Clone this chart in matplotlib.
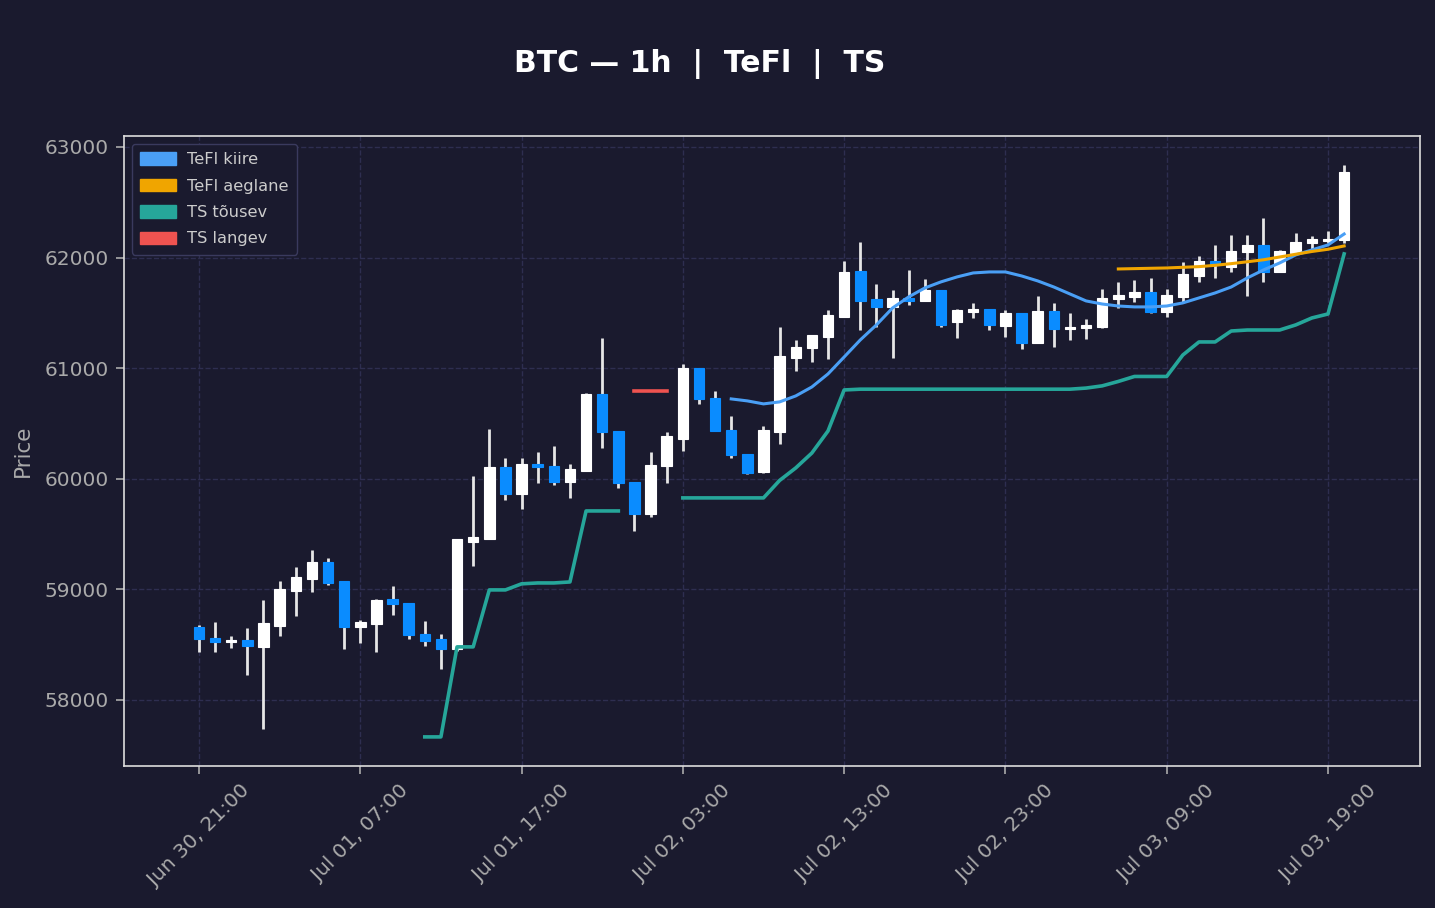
import numpy as np
import matplotlib
matplotlib.use("Agg")
import matplotlib.pyplot as plt
from matplotlib.patches import Patch

nan = np.nan

opens = [58660, 58561, 58525, 58543, 58480, 58670, 58986, 59094, 59248, 59077,
         58661, 58688, 58914, 58878, 58597, 58552, 58462, 59429, 59456, 60107,
         59863, 60134, 60116, 59971, 60071, 60767, 60432, 59971, 59682, 60116,
         60360, 61002, 60731, 60441, 60224, 60062, 60423, 61092, 61183, 61282,
         61463, 61879, 61626, 61554, 61635, 61608, 61707, 61418, 61508, 61535,
         61382, 61499, 61228, 61517, 61355, 61364, 61373, 61626, 61644, 61689,
         61508, 61644, 61834, 61969, 61915, 62051, 62114, 61870, 62042, 62132,
         62150, 62159]
highs = [58678, 58706, 58579, 58652, 58905, 59077, 59203, 59357, 59284, 59077,
         58724, 58914, 59031, 58878, 58715, 58597, 59456, 60026, 60450, 60188,
         60188, 60242, 60297, 60134, 60776, 61273, 60432, 59971, 60242, 60423,
         61038, 61002, 60794, 60568, 60224, 60477, 61373, 61255, 61300, 61526,
         61969, 62141, 61762, 61707, 61888, 61806, 61707, 61535, 61590, 61535,
         61526, 61499, 61653, 61590, 61499, 61445, 61716, 61780, 61798, 61816,
         61716, 61960, 62015, 62114, 62204, 62204, 62358, 62069, 62223, 62195,
         62240, 62837]
lows = [58434, 58434, 58470, 58227, 57739, 58579, 58760, 58977, 59040, 58462,
        58516, 58434, 58769, 58552, 58489, 58280, 58440, 59212, 59456, 59809,
        59727, 59962, 59944, 59827, 60071, 60279, 59917, 59528, 59655, 59962,
        60252, 60677, 60432, 60188, 60044, 60053, 60315, 60975, 61056, 61083,
        61463, 61345, 61373, 61092, 61572, 61608, 61373, 61273, 61454, 61345,
        61282, 61174, 61228, 61192, 61255, 61264, 61364, 61544, 61599, 61499,
        61463, 61599, 61780, 61816, 61870, 61653, 61780, 61870, 62033, 62078,
        62132, 62132]
closes = [58552, 58525, 58543, 58489, 58697, 59004, 59113, 59248, 59058, 58661,
          58706, 58905, 58869, 58588, 58534, 58462, 59456, 59474, 60107, 59863,
          60134, 60107, 59971, 60089, 60767, 60423, 59962, 59682, 60125, 60387,
          61002, 60722, 60432, 60215, 60053, 60441, 61110, 61192, 61300, 61481,
          61870, 61608, 61554, 61635, 61608, 61707, 61391, 61526, 61535, 61391,
          61499, 61228, 61517, 61355, 61373, 61391, 61635, 61662, 61689, 61508,
          61662, 61852, 61969, 61942, 62060, 62114, 61870, 62060, 62141, 62168,
          62168, 62774]

ts_up = [nan] * 14 + [57666, 57666, 58480, 58480, 58995, 58995, 59050, 59058, 59058, 59067,
                      59709, 59709, 59709] + [nan] * 3 + \
        [59827, 59827, 59827, 59827, 59827, 59827, 59985, 60098, 60233, 60432,
         60803, 60810, 60810, 60810, 60810, 60810, 60810, 60810, 60810, 60810,
         60810, 60810, 60810, 60810, 60810, 60820, 60840, 60880, 60925, 60925,
         60925, 61119, 61237, 61237, 61336, 61345, 61345, 61345, 61391, 61454,
         61490, 62033]
ts_down = [nan] * 27 + [60794, 60794, 60794] + [nan] * 42
tefl_fast = [nan] * 33 + [60722, 60704, 60677, 60695, 60749, 60830, 60948, 61101, 61255,
                          61391, 61544, 61644, 61725, 61780, 61825, 61861, 61870, 61870,
                          61834, 61789, 61734, 61671, 61608, 61580, 61562, 61554, 61554,
                          61562, 61590, 61635, 61680, 61734, 61816, 61888, 61951, 62024,
                          62069, 62114, 62213]
tefl_slow = [nan] * 57 + [61897, 61900, 61903, 61906, 61912, 61918, 61930, 61945, 61962,
                          61980, 62005, 62030, 62055, 62075, 62105]

tick_idx = [0, 10, 20, 30, 40, 50, 60, 70]
tick_labels = ["Jun 30, 21:00", "Jul 01, 07:00", "Jul 01, 17:00", "Jul 02, 03:00",
               "Jul 02, 13:00", "Jul 02, 23:00", "Jul 03, 09:00", "Jul 03, 19:00"]

BG = "#1a1a2e"
UP = "#ffffff"
DOWN = "#0a8cff"
WICK = "#e6e6e6"
C_FAST = "#4a9ff5"
C_SLOW = "#f0a500"
C_UP = "#26a69a"
C_DOWN = "#ef5350"
TXT = "#aaaaaa"

fig = plt.figure(figsize=(14.35, 9.08), dpi=100, facecolor=BG)
ax = fig.add_axes([0.0864, 0.1564, 0.9031, 0.6938], facecolor=BG)

x = np.arange(len(opens))
o = np.array(opens, float); h = np.array(highs, float)
l = np.array(lows, float); c = np.array(closes, float)
up = c >= o
cols = np.where(up, UP, DOWN)

ax.vlines(x, l, h, colors=WICK, linewidth=2, zorder=2)
bottoms = np.minimum(o, c)
heights = np.maximum(np.abs(c - o), 18)
ax.bar(x, heights, bottom=bottoms, width=0.65, color=cols, edgecolor=cols,
       linewidth=0.8, zorder=3)

ax.plot(x, ts_up, color=C_UP, linewidth=2.6, zorder=4)
ax.plot(x, ts_down, color=C_DOWN, linewidth=2.6, zorder=4)
ax.plot(x, tefl_fast, color=C_FAST, linewidth=2.2, zorder=5)
ax.plot(x, tefl_slow, color=C_SLOW, linewidth=2.2, zorder=5)

ax.set_xlim(-4.65, 75.7)
ax.set_ylim(57403, 63099)
ax.set_yticks([58000, 59000, 60000, 61000, 62000, 63000])
ax.set_xticks(tick_idx)
ax.set_xticklabels(tick_labels, rotation=45, ha="center")
ax.tick_params(colors=TXT, labelsize=14.5, length=6, width=1.2, pad=5)
for lab in ax.get_xticklabels() + ax.get_yticklabels():
    lab.set_color(TXT)
ax.grid(True, color="#2e2e50", linestyle="--", linewidth=1)
ax.set_axisbelow(True)
for s in ax.spines.values():
    s.set_color("#dddddd")
    s.set_linewidth(1.2)
ax.set_ylabel("Price", color=TXT, fontsize=15.5, labelpad=8)

handles = [Patch(color=C_FAST, label="TeFl kiire"),
           Patch(color=C_SLOW, label="TeFl aeglane"),
           Patch(color=C_UP, label="TS tõusev"),
           Patch(color=C_DOWN, label="TS langev")]
leg = ax.legend(handles=handles, loc="upper left", fontsize=11.7, frameon=True,
                facecolor=BG, edgecolor="#3a3a5e", labelcolor="#cccccc",
                borderpad=0.5, labelspacing=0.7, handlelength=2.2,
                handleheight=0.8, handletextpad=0.7, borderaxespad=0.5)
leg.get_frame().set_alpha(1.0)

fig.text(0.4878, 0.930, "BTC — 1h  |  TeFl  |  TS", ha="center", va="center",
         color="white", fontsize=21.5, fontweight="bold")

fig.savefig("out.png", dpi=100, facecolor=BG)
